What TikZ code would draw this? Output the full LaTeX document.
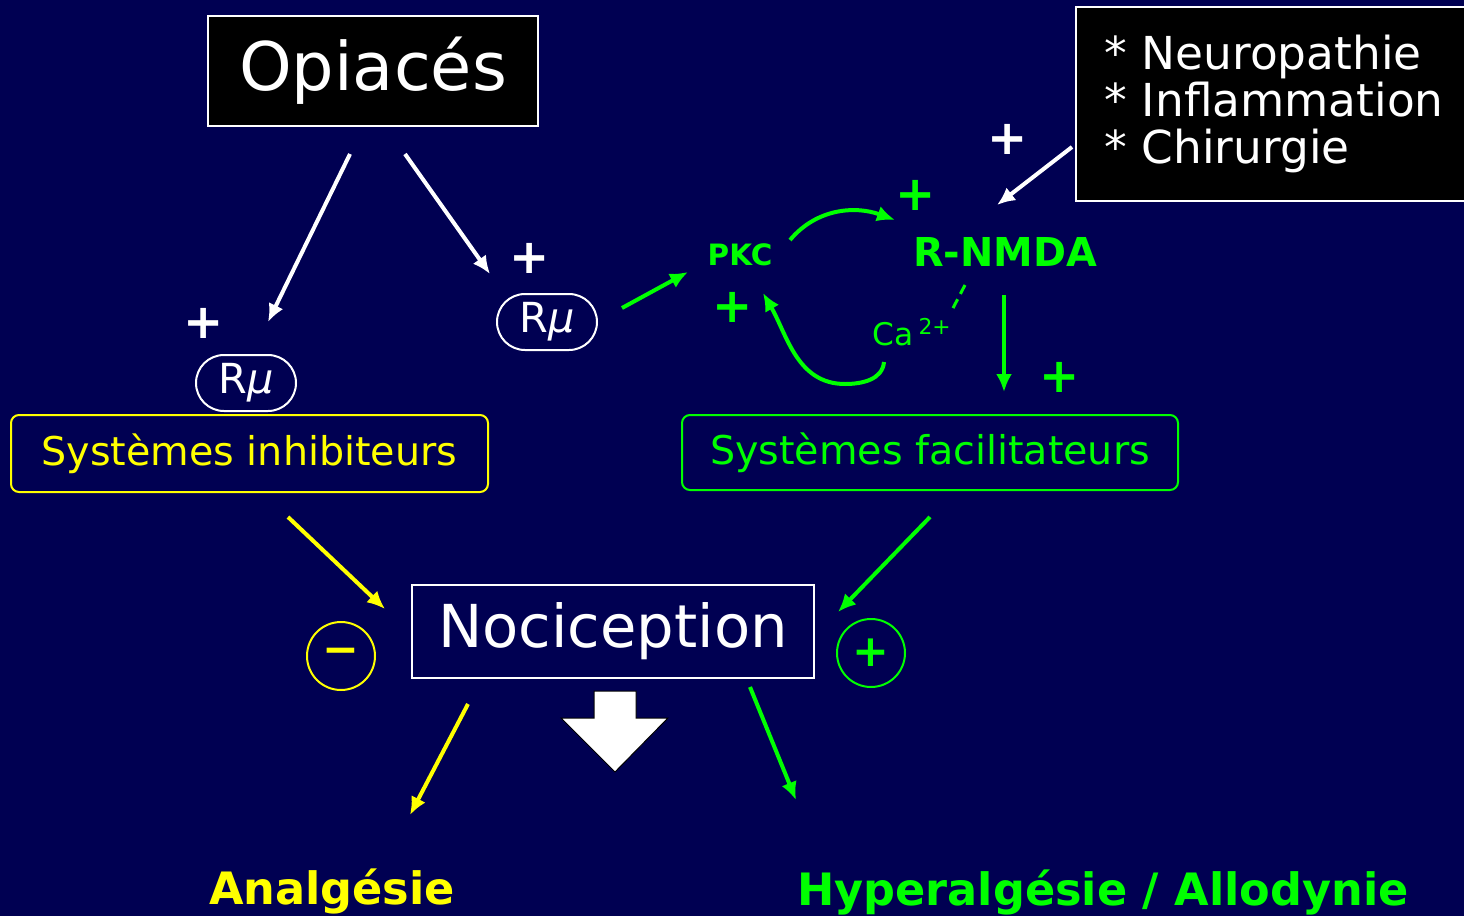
\documentclass[tikz,border=0pt]{standalone}
\usepackage{fontspec}
\setmainfont{DejaVu Sans}
\usepackage{tikz}
\usetikzlibrary{arrows.meta}
\definecolor{fondbleu}{RGB}{0,0,82}
\definecolor{vert}{RGB}{0,255,0}
\definecolor{jaune}{RGB}{255,255,0}

\begin{document}
\begin{tikzpicture}[x=0.5pt, y=-0.5pt,
		fleche/.style={-{Latex[length=9pt,width=8pt]}, line width=2pt},
		boite/.style={draw=white, line width=1pt, fill=black, text=white},
		recep/.style={draw=white, line width=1pt, rounded corners=14pt, minimum width=50pt, minimum height=28pt, inner sep=0pt, text=white, font=\fontsize{20.7}{24}\selectfont},
		systeme/.style={line width=1pt, rounded corners=4pt, inner sep=0pt, font=\fontsize{19.8}{24}\selectfont},
		signe/.style={font=\bfseries\fontsize{24}{24}\selectfont},
		rond/.style={circle, line width=1pt, minimum size=34pt, inner sep=0pt, font=\bfseries\fontsize{22}{22}\selectfont},
		effet/.style={anchor=base, font=\bfseries\fontsize{22.3}{26}\selectfont}]
		\fill [fondbleu] (0,0) rectangle (1464,916);
		\useasboundingbox (0,0) rectangle (1464,916);
		
		\node [boite, minimum width=165pt, minimum height=55pt, font=\fontsize{33.5}{40}\selectfont] (opiaces) at (373,71) {Opiacés};
		\node [boite, anchor=north west, align=left, text width=180pt, minimum height=97pt, inner xsep=14pt, font=\fontsize{22.7}{23.5}\selectfont] (facteurs) at (1075,6) {{*} Neuropathie\\{*} Inflammation\\{*} Chirurgie};
		
		\node [recep] (rmu1) at (246,383) {R\textit{μ}};
		\node [recep] (rmu2) at (547,322) {R\textit{μ}};
		\node [signe, text=white] (plus1) at (204,323) {+};
		\node [signe, text=white] (plus2) at (530,258) {+};
		\node [signe, text=white] (plus3) at (1008,139) {+};
		
		\node [text=vert, font=\bfseries\fontsize{14.7}{18}\selectfont] (pkc) at (740,255) {PKC};
		\node [text=vert, font=\bfseries\fontsize{19.9}{24}\selectfont] (nmda) at (1005,252) {R-NMDA};
		\node [text=vert, anchor=base west, inner sep=0pt, font=\fontsize{15.6}{18}\selectfont] (calcium) at (872,345) {Ca\,\textsuperscript{2+}};
		\node [signe, text=vert] (plus4) at (916,195) {+};
		\node [signe, text=vert] (plus5) at (733,307) {+};
		\node [signe, text=vert] (plus6) at (1060,377) {+};
		
		\node [systeme, draw=jaune, text=jaune, minimum width=238.5pt, minimum height=38.5pt] (inhib) at (249.5,453.5) {Systèmes inhibiteurs};
		\node [systeme, draw=vert, text=vert, minimum width=248pt, minimum height=37.5pt] (facil) at (930,452.5) {Systèmes facilitateurs};
		
		\node [draw=white, line width=1pt, minimum width=201pt, minimum height=46.5pt, inner sep=0pt, text=white, font=\fontsize{29.6}{34}\selectfont] (nocicep) at (613,631.5) {Nociception};
		\node [rond, draw=jaune, text=jaune] (moins) at (341,656) {−};
		\node [rond, draw=vert, text=vert] (plus) at (871,653) {+};
		
		\node [effet, text=jaune] (analg) at (332,904) {Analgésie};
		\node [effet, text=vert] (hyper) at (1103,905) {Hyperalgésie / Allodynie};
		
		% fleches des opiaces
		\draw [fleche, white] ([xshift=-11.5pt,yshift=-13.5pt]opiaces.south) -- ([xshift=11pt,yshift=16pt]rmu1.north);
		\draw [fleche, white] ([xshift=16pt,yshift=-13.5pt]opiaces.south) -- ([xshift=-28.5pt,yshift=9.5pt]rmu2.north);
		\draw [fleche, white] ([xshift=-1.5pt,yshift=27.5pt]facteurs.south west) -- ([xshift=-4pt,yshift=23.5pt]nmda.center);
		
		% boucle PKC / NMDA
		\draw [fleche, vert] ([xshift=37.5pt,yshift=7pt]rmu2.center) -- ([xshift=-26pt,yshift=-8.5pt]pkc.center);
		\draw [fleche, vert] ([xshift=25pt,yshift=7.5pt]pkc.center) to [out=50, in=160] ([xshift=-55pt,yshift=16pt]nmda.center);
		\draw [fleche, vert] ([xshift=6pt,yshift=-8.5pt]calcium.base west) to [out=-95, in=0] ([xshift=-13.5pt,yshift=-19.5pt]calcium.base west) to [out=180, in=-60] ([xshift=11.5pt,yshift=-19pt]pkc.center);
		\draw [vert, line width=1.5pt, dash pattern=on 5pt off 3pt] ([xshift=-20pt,yshift=-16.5pt]nmda.center) -- ([xshift=39.5pt,yshift=16.5pt]calcium.base west);
		\draw [fleche, vert] ([xshift=-0.5pt,yshift=-21.5pt]nmda.center) -- ([xshift=37pt,yshift=11pt]facil.north);
		
		% vers la nociception
		\draw [fleche, jaune] ([xshift=19.25pt,yshift=-12pt]inhib.south) -- ([xshift=-13pt,yshift=11.25pt]nocicep.west);
		\draw [fleche, vert] ([yshift=-13pt]facil.south) -- ([xshift=11.5pt,yshift=9.75pt]nocicep.east);
		\draw [fleche, jaune] ([xshift=-72.5pt,yshift=-12.5pt]nocicep.south) -- ([xshift=39pt,yshift=44.5pt]analg.base);
		\draw [fleche, vert] ([xshift=68.5pt,yshift=-4pt]nocicep.south) -- ([xshift=-153.5pt,yshift=52.5pt]hyper.base);
		
		\draw [draw=black, fill=white, line width=0.5pt] (594,691) -- (636,691) -- (636,718) -- (668,718) -- (615,772) -- (561,718) -- (594,718) -- cycle;
		\end{tikzpicture}
\end{document}
